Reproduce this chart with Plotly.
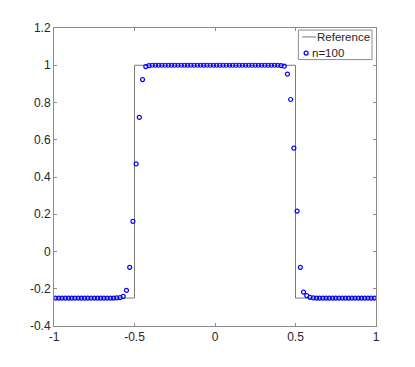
import numpy as np
import plotly.graph_objects as go

# exact solution (step)
ref_x = [-1.0, -0.5, -0.5, 0.5, 0.5, 1.0]
ref_y = [-0.25, -0.25, 1.0, 1.0, -0.25, -0.25]

# numerical solution, n=100 cell centres
n = 100
xc = np.linspace(-0.99, 0.99, n)
yc = ([-0.25] * 19
      + [-0.249, -0.248, -0.241, -0.209, -0.085, 0.162, 0.47, 0.72, 0.923, 0.993, 0.998]
      + [1.0] * 40
      + [0.998, 0.995, 0.952, 0.816, 0.555, 0.217, -0.085, -0.218, -0.237, -0.246, -0.249]
      + [-0.25] * 19)

xticks = [-1, -0.5, 0, 0.5, 1]
xlabels = ['-1', '-0.5', '0', '0.5', '1']
yticks = [-0.4, -0.2, 0, 0.2, 0.4, 0.6, 0.8, 1.0, 1.2]
ylabels = ['-0.4', '-0.2', '0', '0.2', '0.4', '0.6', '0.8', '1', '1.2']

GREY = '#7a7a7a'
BLUE = '#0000ff'
TICKFONT = dict(family='Liberation Sans', size=12, color='#262626')
LEGFONT = dict(family='Liberation Sans', size=11.5, color='#262626')

fig = go.Figure()
fig.add_trace(go.Scatter(x=ref_x, y=ref_y, mode='lines', name='Reference',
                         line=dict(color=GREY, width=1)))
fig.add_trace(go.Scatter(x=xc, y=yc, mode='markers', name='n=100',
                         marker=dict(symbol='circle-open', size=4, color=BLUE,
                                     line=dict(width=1.2, color=BLUE))))

axis_style = dict(showline=True, linecolor='#8c8c8c', linewidth=1, mirror='ticks',
                  ticks='inside', ticklen=3, tickcolor='#8c8c8c', showgrid=False,
                  zeroline=False, automargin=False, tickfont=TICKFONT)

fig.update_xaxes(range=[-1, 1], tickvals=xticks, ticktext=xlabels, **axis_style)
fig.update_yaxes(range=[-0.4, 1.2], tickvals=yticks, ticktext=ylabels, **axis_style)

# compact matlab-style legend, drawn by hand (plotly's own is too tall)
fig.add_shape(type='rect', xref='paper', yref='paper', x0=0.759, x1=0.9876, y0=0.894, y1=0.993,
              line=dict(color='#8c8c8c', width=1), fillcolor='white', layer='above')
fig.add_shape(type='line', xref='paper', yref='paper', x0=0.770, x1=0.814, y0=0.970, y1=0.970,
              line=dict(color=GREY, width=1), layer='above')
fig.add_shape(type='circle', xref='paper', yref='paper', xsizemode='pixel', ysizemode='pixel',
              xanchor=0.783, yanchor=0.916, x0=-2, x1=2, y0=-2, y1=2,
              line=dict(color=BLUE, width=1.2), layer='above')
fig.add_annotation(xref='paper', yref='paper', x=0.812, y=0.970, text='Reference',
                   showarrow=False, xanchor='left', yanchor='middle', font=LEGFONT)
fig.add_annotation(xref='paper', yref='paper', x=0.796, y=0.916, text='n=100',
                   showarrow=False, xanchor='left', yanchor='middle', font=LEGFONT)

# page body adds an 8px offset, so the figure is 8px smaller here
fig.update_layout(
    width=407, height=359,
    margin=dict(l=46, r=39, t=20, b=41),
    plot_bgcolor='white', paper_bgcolor='white',
    font=TICKFONT,
    showlegend=False,
)

fig.write_html("out.html")
